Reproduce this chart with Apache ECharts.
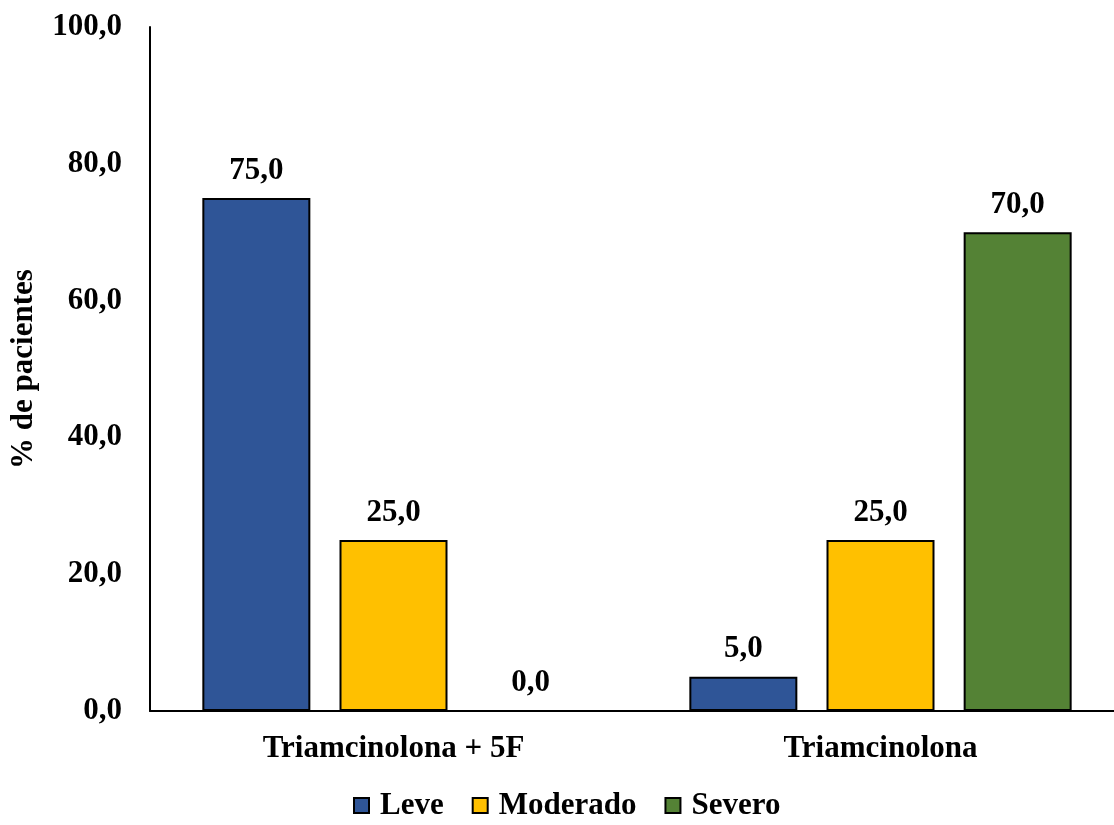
<!DOCTYPE html>
<html>
<head>
<meta charset="utf-8">
<script src="https://cdn.jsdelivr.net/npm/echarts@6/dist/echarts.min.js"></script>
<style>
  html, body { margin: 0; padding: 0; background: #fff; }
  #chart { width: 1114px; height: 825px; }
</style>
</head>
<body>
<div id="chart"></div>
<script>
// Treatment groups and severity percentages
const categories = ['Triamcinolona + 5F', 'Triamcinolona'];
const leve = [75.0, 5.0];
const moderado = [25.0, 25.0];
const severo = [0.0, 70.0];
const seriesNames = ['Leve', 'Moderado', 'Severo'];
const yTicks = [0, 20, 40, 60, 80, 100];

const FONT = '"Liberation Serif", "Times New Roman", serif';
const FS = 31;
const colors = ['#2F5597', '#FFC000', '#548235'];

const fmt = v => v.toFixed(1).replace('.', ',');

function barSeries(name, data, color) {
  return {
    name: name,
    type: 'bar',
    data: data,
    barWidth: 108,
    barGap: '27%',
    itemStyle: { color: color, borderColor: '#000', borderWidth: 2 },
    label: {
      show: true,
      position: 'top',
      distance: 12,
      formatter: p => fmt(p.value),
      fontFamily: FONT,
      fontWeight: 'bold',
      fontSize: FS,
      color: '#000'
    }
  };
}

const chart = echarts.init(document.getElementById('chart'));
chart.setOption({
  animation: false,
  textStyle: { fontFamily: FONT },
  grid: { left: 150, right: -10, top: 27, bottom: 114, containLabel: false, outerBoundsMode: 'none' },
  legend: {
    bottom: -1,
    left: 348,
    itemWidth: 15,
    itemHeight: 15,
    itemGap: 28,
    icon: 'rect',
    data: seriesNames,
    itemStyle: { borderColor: '#000', borderWidth: 2 },
    textStyle: { fontFamily: FONT, fontWeight: 'bold', fontSize: FS, color: '#000', padding: [0, 0, 0, 6] }
  },
  xAxis: {
    type: 'category',
    data: categories,
    axisLine: { lineStyle: { color: '#000', width: 2 } },
    axisTick: { show: false },
    axisLabel: { margin: 22, fontFamily: FONT, fontWeight: 'bold', fontSize: FS, color: '#000' }
  },
  yAxis: {
    type: 'value',
    min: yTicks[0],
    max: yTicks[yTicks.length - 1],
    interval: yTicks[1] - yTicks[0],
    name: '% de pacientes',
    nameLocation: 'middle',
    nameGap: 111,
    nameTextStyle: { fontFamily: FONT, fontWeight: 'bold', fontSize: FS, color: '#000' },
    axisLine: { show: true, lineStyle: { color: '#000', width: 2 } },
    axisTick: { show: false },
    splitLine: { show: false },
    axisLabel: { margin: 28, formatter: v => fmt(v), fontFamily: FONT, fontWeight: 'bold', fontSize: FS, color: '#000' }
  },
  series: [
    barSeries(seriesNames[0], leve, colors[0]),
    barSeries(seriesNames[1], moderado, colors[1]),
    barSeries(seriesNames[2], severo, colors[2])
  ]
});
</script>
</body>
</html>
